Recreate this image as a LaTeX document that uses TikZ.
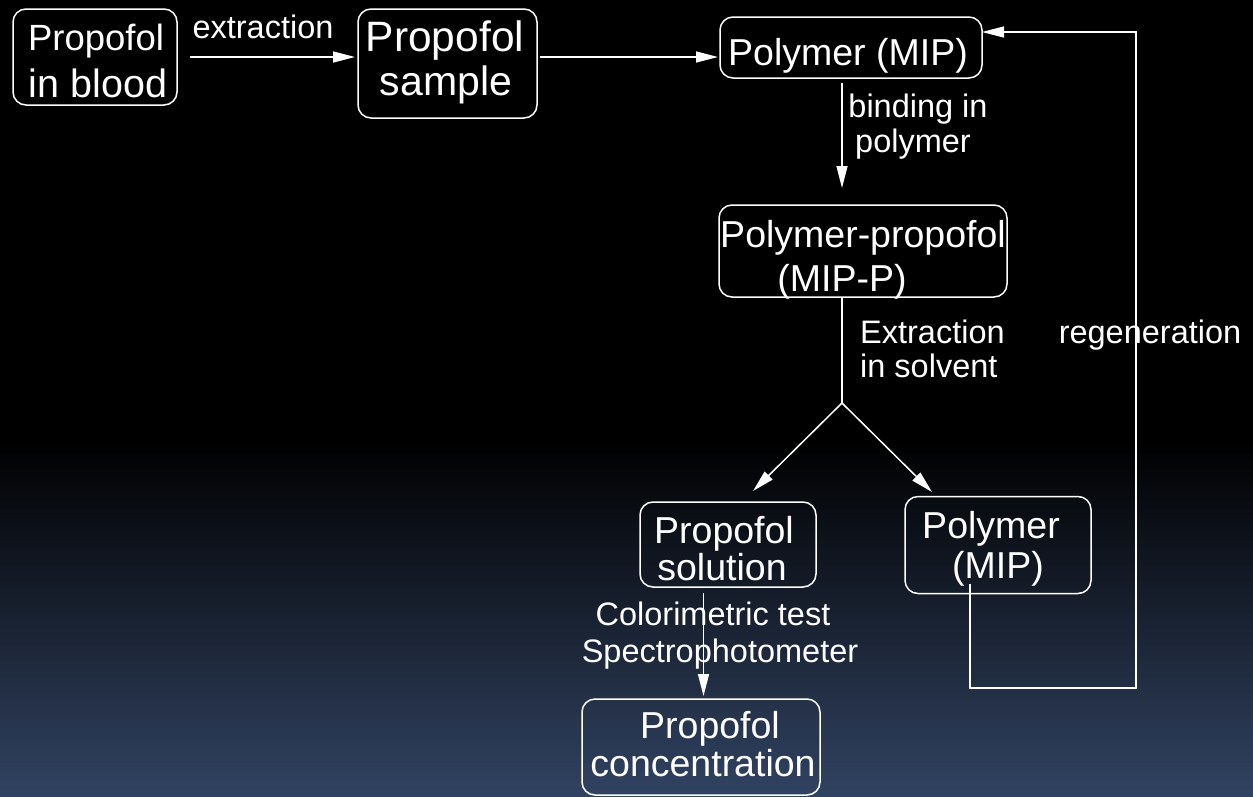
\documentclass[tikz,border=0pt]{standalone}
\usepackage{fontspec}
\setmainfont{Liberation Sans}
\usetikzlibrary{arrows.meta}
\definecolor{bgblue}{RGB}{49,67,98}
\begin{document}
\begin{tikzpicture}[x=1pt,y=-1pt,
  box/.style={draw=white,line width=1.5pt,rounded corners=13pt,inner sep=0pt,outer sep=0pt},
  conn/.style={draw=white,line width=1.5pt},
  arr/.style={conn,-{Triangle[length=22pt,width=11pt]}},
  lbl/.style={text=white,inner sep=0pt,anchor=base,font=\fontsize{32.5}{36}\selectfont},
  btxt/.style={text=white,inner sep=0pt,anchor=base,font=\fontsize{37.5}{42}\selectfont}]
\useasboundingbox (0,0) rectangle (1253,796);
\fill[black] (0,0) rectangle (1253,796);
\shade[top color=black,bottom color=bgblue] (0,440) rectangle (1253,797);

% boxes
\node[box,minimum width=164pt,minimum height=96pt] (blood) at (95,57) {};
\node[box,minimum width=179pt,minimum height=109pt] (sample) at (447.5,63.5) {};
\node[box,minimum width=262pt,minimum height=61pt] (mip) at (851,47.5) {};
\node[box,minimum width=288pt,minimum height=92pt] (mipp) at (863,251) {};
\node[box,minimum width=176pt,minimum height=85pt] (solution) at (728,544.5) {};
\node[box,minimum width=186pt,minimum height=97pt] (poly) at (998,545) {};
\node[box,minimum width=238pt,minimum height=96pt] (conc) at (701,747) {};

% box texts
\node[btxt,font=\fontsize{36.5}{40}\selectfont] (t1a) at (96,50) {Propofol};
\node[btxt,font=\fontsize{39.5}{44}\selectfont] (t1b) at (98,97) {in blood};
\node[btxt,font=\fontsize{42.5}{48}\selectfont] (t2a) at (445,51) {Propofol};
\node[btxt,font=\fontsize{41}{46}\selectfont] (t2b) at (446,95) {sample};
\node[btxt] (t3) at (848,65) {Polymer (MIP)};
\node[btxt] (t4a) at (863,247) {Polymer-propofol};
\node[btxt] (t4b) at (842,291) {(MIP-P)};
\node[btxt] (t5a) at (724,543) {Propofol};
\node[btxt] (t5b) at (722,580) {solution};
\node[btxt] (t6a) at (991,538) {Polymer};
\node[btxt] (t6b) at (998,578) {(MIP)};
\node[btxt] (t7a) at (710,738) {Propofol};
\node[btxt] (t7b) at (703,776) {concentration};

% labels
\node[lbl] (l1) at (263,38) {extraction};
\node[lbl] (l2a) at (918,117) {binding in};
\node[lbl] (l2b) at (913,152) {polymer};
\node[lbl,anchor=base west] (l3a) at (860,343) {Extraction};
\node[lbl,anchor=base west] (l3b) at (860,377) {in solvent};
\node[lbl] (l4) at (1150,343) {regeneration};
\node[lbl] (l5a) at (713,625) {Colorimetric test};
\node[lbl] (l5b) at (720,662) {Spectrophotometer};

% coordinates
\coordinate (split) at (842,403);
\coordinate (tipL) at (753,491);
\coordinate (tipR) at (932,492);
\coordinate (rb) at (1136,688);

% connectors
\draw[arr,shorten >=3pt] ([xshift=13pt]blood.east) -- (blood.east -| sample.west);
\draw[arr,shorten >=2pt] ([xshift=3pt]sample.east |- blood.east) -- (blood.east -| mip.west);
\draw[arr,shorten >=17pt] ([yshift=-5pt]mip.south -| split) -- (mipp.north -| split);
\draw[conn] ([yshift=-1pt]mipp.south -| split) -- (split);
\draw[arr] (split) -- (tipL);
\draw[arr] (split) -- (tipR);
\draw[arr,shorten >=3pt] ([xshift=2.5pt,yshift=-6pt]solution.south -| conc.north) -- ([xshift=2.5pt]conc.north);
\draw[arr] ([xshift=-28pt,yshift=10pt]poly.south) |- (rb) |- ([yshift=15.5pt]mip.east);
\end{tikzpicture}
\end{document}
